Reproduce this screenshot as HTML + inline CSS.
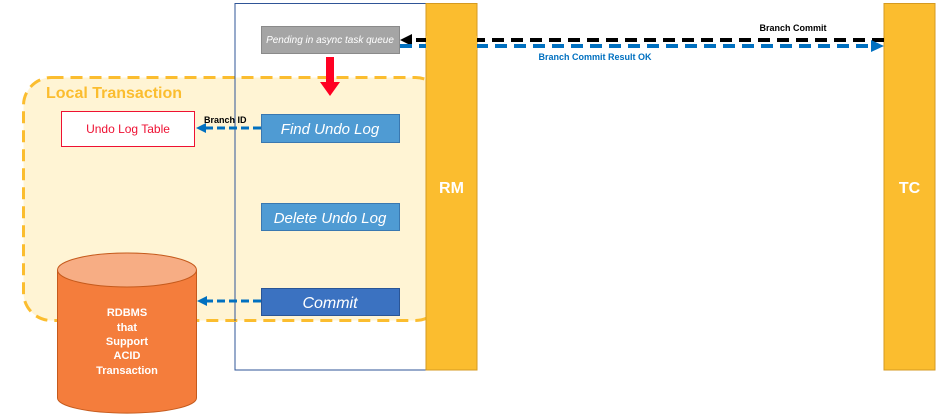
<!DOCTYPE html>
<html><head><meta charset="utf-8"><style>
body{margin:0;background:#fff;}
svg{display:block;font-family:"Liberation Sans",sans-serif;}
</style></head><body>
<svg width="947" height="419" viewBox="0 0 947 419">
<rect x="235" y="3.5" width="191" height="366.5" fill="#fff" stroke="#2f5597" stroke-width="1"/>
<rect x="23.5" y="77.5" width="420" height="243" rx="28" fill="#fff2cc" fill-opacity="0.85" stroke="#fbbd2f" stroke-width="3" stroke-dasharray="12,7"/>
<line x1="235" y1="77" x2="235" y2="321" stroke="#2f5597" stroke-width="1"/>
<text x="46" y="98" font-size="16" font-weight="bold" fill="#fbbd2f">Local Transaction</text>
<rect x="426" y="3.5" width="51" height="366.5" fill="#fbbd2f" stroke="#d59a20"/>
<text x="451.5" y="193" font-size="16" font-weight="bold" fill="#fff" text-anchor="middle">RM</text>
<rect x="884" y="3.5" width="51" height="366.5" fill="#fbbd2f" stroke="#d59a20"/>
<text x="909.5" y="193" font-size="16" font-weight="bold" fill="#fff" text-anchor="middle">TC</text>
<rect x="261.5" y="26.5" width="138" height="27" fill="#a5a5a5" stroke="#8a8a8a"/>
<text x="330" y="43" font-size="10" font-style="italic" fill="#fff" text-anchor="middle">Pending in async task queue</text>
<rect x="326" y="57" width="8" height="25" fill="#ff0022"/>
<polygon points="320,82 340,82 330,96" fill="#ff0022"/>
<rect x="261.5" y="114.5" width="138" height="28" fill="#4f9bd3" stroke="#3a78b0"/>
<text x="330" y="134" font-size="15" font-style="italic" fill="#fff" text-anchor="middle">Find Undo Log</text>
<rect x="261.5" y="203.5" width="138" height="27" fill="#4f9bd3" stroke="#3a78b0"/>
<text x="330" y="223" font-size="15" font-style="italic" fill="#fff" text-anchor="middle">Delete Undo Log</text>
<rect x="261.5" y="288.5" width="138" height="27" fill="#3b72c1" stroke="#2a5596"/>
<text x="330" y="308" font-size="16" font-style="italic" fill="#fff" text-anchor="middle">Commit</text>
<rect x="61.5" y="111.5" width="133" height="35" fill="#fff" stroke="#ee1133"/>
<text x="128" y="133" font-size="12" fill="#ee1133" text-anchor="middle">Undo Log Table</text>
<line x1="261" y1="128" x2="204" y2="128" stroke="#0070c0" stroke-width="3" stroke-dasharray="8,4"/>
<polygon points="196,128 206,123 206,133" fill="#0070c0"/>
<text x="204" y="123" font-size="9" font-weight="bold" fill="#000">Branch ID</text>
<path d="M57.5,270 L57.5,398 A69,15 0 0 0 196.5,398 L196.5,270" fill="#f47d3c" stroke="#c55a1c"/>
<ellipse cx="127" cy="270" rx="69.5" ry="17" fill="#f7ad84" stroke="#c55a1c"/>
<g font-size="11" font-weight="bold" fill="#fff" text-anchor="middle">
<text x="127" y="316">RDBMS</text><text x="127" y="331">that</text><text x="127" y="345">Support</text><text x="127" y="359">ACID</text><text x="127" y="374">Transaction</text></g>
<line x1="261" y1="301" x2="206" y2="301" stroke="#0070c0" stroke-width="3" stroke-dasharray="8,4"/>
<polygon points="197,301 207,296 207,306" fill="#0070c0"/>
<line x1="884" y1="40" x2="410" y2="40" stroke="#000" stroke-width="4" stroke-dasharray="12,7"/>
<polygon points="400,40 412,34 412,46" fill="#000"/>
<line x1="400" y1="46" x2="872" y2="46" stroke="#0070c0" stroke-width="4" stroke-dasharray="12,7"/>
<polygon points="884,46 871,40 871,52" fill="#0070c0"/>
<rect x="426" y="36" width="51" height="14" fill="#fbbd2f"/>
<text x="793" y="31" font-size="9" font-weight="bold" fill="#000" text-anchor="middle">Branch Commit</text>
<text x="595" y="60" font-size="9" font-weight="bold" fill="#0070c0" text-anchor="middle">Branch Commit Result OK</text>
</svg>
</body></html>
